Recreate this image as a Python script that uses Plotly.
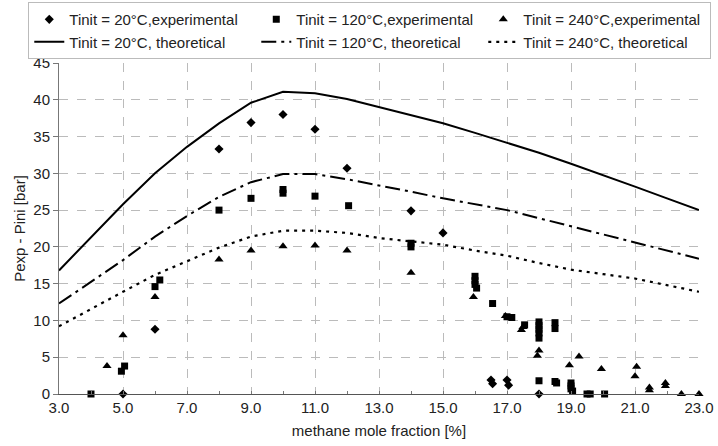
import plotly.graph_objects as go

# ---------- data ----------
theo_x = [3, 4, 5, 6, 7, 8, 9, 10, 11, 12, 13, 14, 15, 16, 17, 18, 19, 20, 21, 22, 23]
theo_20 = [16.8, 21.3, 25.8, 30.0, 33.6, 36.8, 39.6, 41.1, 40.9, 40.1, 39.0, 37.9, 36.8, 35.5, 34.2, 32.8, 31.3, 29.8, 28.2, 26.6, 25.0]
theo_120 = [12.3, 15.3, 18.2, 21.4, 24.2, 26.8, 28.8, 29.9, 29.9, 29.2, 28.4, 27.5, 26.6, 25.8, 25.0, 23.9, 22.8, 21.8, 20.7, 19.6, 18.4]
theo_240 = [9.2, 11.6, 13.9, 16.2, 18.0, 19.9, 21.4, 22.2, 22.2, 21.9, 21.2, 20.8, 20.3, 19.5, 18.8, 17.8, 16.9, 16.3, 15.7, 14.8, 13.9]

exp20_x = [5.0, 6.0, 8.0, 9.0, 10.0, 11.0, 12.0, 14.0, 15.0, 16.5, 16.55, 17.0, 17.05, 18.0]
exp20_y = [0.0, 8.8, 33.3, 36.9, 38.0, 36.0, 30.7, 24.9, 21.9, 1.9, 1.4, 1.9, 1.2, 0.0]

exp120_x = [4.0, 4.95, 5.05, 6.0, 6.15, 8.0, 9.0, 10.0, 10.0, 11.0, 12.05, 14.0, 14.0,
            16.0, 16.0, 16.0, 16.05, 16.55, 17.0, 17.15, 17.55, 18.0, 18.0, 18.0, 18.0, 18.0,
            18.5, 18.5, 18.0, 18.5, 18.55, 19.0, 19.0, 19.0, 19.05, 19.5, 19.6, 20.05]
exp120_y = [0.0, 3.1, 3.8, 14.6, 15.5, 25.0, 26.6, 27.3, 27.8, 26.9, 25.6, 20.0, 20.5,
            16.0, 15.4, 14.9, 14.4, 12.3, 10.5, 10.4, 9.4, 9.8, 9.3, 8.8, 8.3, 7.6,
            9.7, 8.9, 1.8, 1.7, 1.5, 1.5, 1.1, 0.7, 0.4, 0.0, 0.0, 0.0]

exp240_x = [4.5, 5.0, 6.0, 8.0, 9.0, 10.0, 11.0, 12.0, 14.0, 15.95, 16.95, 17.45, 17.5,
            18.0, 17.95, 18.95, 19.25, 19.95, 21.05, 21.0, 21.45, 21.45, 21.95, 21.95, 22.45, 23.0]
exp240_y = [3.8, 8.0, 13.2, 18.3, 19.5, 20.1, 20.2, 19.5, 16.5, 13.2, 10.6, 8.7, 9.1,
            5.9, 5.2, 3.9, 5.1, 3.4, 3.7, 2.4, 0.9, 0.5, 1.5, 1.1, 0.0, 0.0]

x_ticks = list(range(3, 24))
x_ticklabels = ["3.0", "", "5.0", "", "7.0", "", "9.0", "", "11.0", "", "13.0", "", "15.0", "",
                "17.0", "", "19.0", "", "21.0", "", "23.0"]
x_grid = [5, 7, 9, 11, 13, 15, 17, 19, 21]
y_ticks = [0, 5, 10, 15, 20, 25, 30, 35, 40, 45]
y_grid = [5, 10, 15, 20, 25, 30, 35, 40]

# ---------- figure ----------
fig = go.Figure()
mk = dict(color="black")
fig.add_trace(go.Scatter(x=exp20_x, y=exp20_y, mode="markers", name="Tinit = 20°C,experimental",
                         marker=dict(symbol="diamond", size=7, **mk), cliponaxis=False))
fig.add_trace(go.Scatter(x=exp120_x, y=exp120_y, mode="markers", name="Tinit = 120°C,experimental",
                         marker=dict(symbol="square", size=7, **mk), cliponaxis=False))
fig.add_trace(go.Scatter(x=exp240_x, y=exp240_y, mode="markers", name="Tinit = 240°C,experimental",
                         marker=dict(symbol="triangle-up", size=8, **mk), cliponaxis=False))
fig.add_trace(go.Scatter(x=theo_x, y=theo_20, mode="lines", name="Tinit = 20°C, theoretical",
                         line=dict(color="black", width=2), cliponaxis=False))
fig.add_trace(go.Scatter(x=theo_x, y=theo_120, mode="lines", name="Tinit = 120°C, theoretical",
                         line=dict(color="black", width=2, dash="15px,5px,3px,5px"), cliponaxis=False))
fig.add_trace(go.Scatter(x=theo_x, y=theo_240, mode="lines", name="Tinit = 240°C, theoretical",
                         line=dict(color="black", width=2.2, dash="3px,5px"), cliponaxis=False))

font_family = "Liberation Sans, Arial, Helvetica, sans-serif"
fig.update_layout(
    width=718, height=446,
    margin=dict(l=59, r=19, t=63, b=52, autoexpand=False),
    paper_bgcolor="white", plot_bgcolor="white",
    font=dict(family=font_family, size=15, color="#222"),
    legend=dict(orientation="h", x=-0.048, xanchor="left", y=1.184, yanchor="top",
                entrywidth=182, entrywidthmode="pixels",
                bordercolor="#bbb", borderwidth=1, bgcolor="white",
                font=dict(size=15, family=font_family, color="#222"),
                tracegroupgap=0),
    xaxis=dict(range=[3, 23], tickvals=x_ticks, ticktext=x_ticklabels,
               showgrid=False, zeroline=False, showline=True, linecolor="#555", linewidth=1,
               ticks="inside", ticklen=3, tickcolor="#777", tickfont=dict(size=15),
               minor=dict(tickvals=x_grid, ticks="", showgrid=True,
                          gridcolor="#bbb", griddash="dash", gridwidth=1),
               title=dict(text="methane mole fraction [%]", font=dict(size=15), standoff=10)),
    yaxis=dict(range=[0, 45], tickvals=y_ticks,
               showgrid=False, zeroline=False, showline=True, linecolor="#777", linewidth=1,
               ticks="outside", ticklen=5, tickcolor="#777", tickfont=dict(size=15),
               minor=dict(tickvals=y_grid, ticks="", showgrid=True,
                          gridcolor="#bbb", griddash="dash", gridwidth=1),
               title=dict(text="Pexp - Pini [bar]", font=dict(size=15), standoff=4)),
)

fig.write_html("out.html")
